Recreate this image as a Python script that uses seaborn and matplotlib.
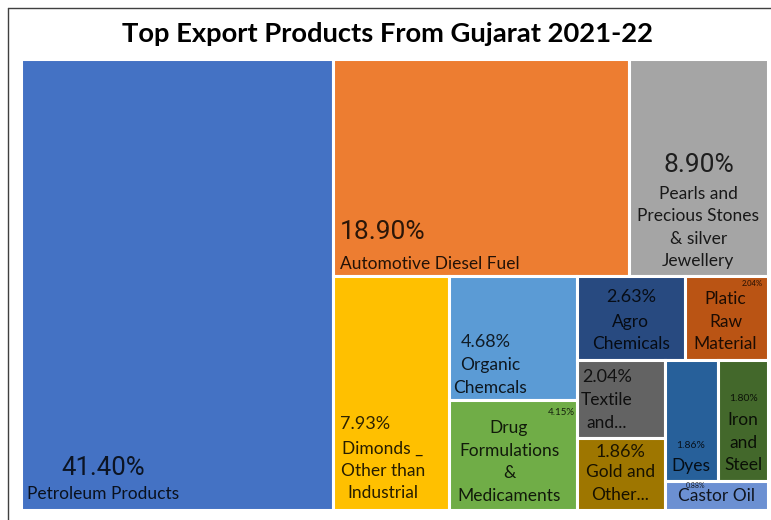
"""Treemap of Gujarat's top export products, 2021-22."""
import numpy as np
import pandas as pd
import matplotlib
matplotlib.use("Agg")
import matplotlib.pyplot as plt
from matplotlib.lines import Line2D
import seaborn as sns

# --- data -------------------------------------------------------------
products = [
    "Petroleum Products",
    "Automotive Diesel Fuel",
    "Pearls and\nPrecious Stones\n& silver\nJewellery",
    "Dimonds _\nOther than\nIndustrial",
    "Organic\nChemcals",
    "Drug\nFormulations\n&\nMedicaments",
    "Agro\nChemicals",
    "Platic\nRaw\nMaterial",
    "Textile\nand...",
    "Gold and\nOther...",
    "Dyes",
    "Iron\nand\nSteel",
    "Castor Oil",
]
shares = [41.40, 18.90, 8.90, 7.93, 4.68, 4.15, 2.63, 2.04, 2.04, 1.86, 1.86, 1.80, 0.88]
share_labels = ["41.40%", "18.90%", "8.90%", "7.93%", "4.68%", "4.15%", "2.63%",
                "2.04%", "2.04%", "1.86%", "1.86%", "1.80%", "0.88%"]
# how many cells go into each strip of the treemap (as in the original)
strip_sizes = [1, 2, 1, 2, 2, 2, 2, 1]

colors = ["#4472C4", "#ED7D31", "#A5A5A5", "#FFC000", "#5B9BD5", "#70AD47",
          "#284A80", "#BA5414", "#636363", "#9E7600", "#27609A", "#43682B",
          "#6C90D2"]

# label placement inside each cell: (x frac, y frac, ha, size) for % and name
pct_style = [
    (0.264, 0.907, "center", 18.5), (0.024, 0.794, "left", 19),
    (0.50, 0.486, "center", 19), (0.06, 0.631, "left", 13),
    (0.095, 0.53, "left", 13), (0.875, 0.11, "center", 7),
    (0.50, 0.25, "center", 13), (0.81, 0.09, "center", 5.5),
    (0.06, 0.22, "left", 13), (0.49, 0.19, "center", 13),
    (0.48, 0.71, "center", 7.5), (0.51, 0.32, "center", 7.5),
    (0.29, 0.16, "center", 5),
]
name_style = [
    (0.019, 0.965, "left"), (0.024, 0.944, "left"), (0.50, 0.776, "center"),
    (0.43, 0.833, "center"), (0.325, 0.81, "center"), (0.47, 0.565, "center"),
    (0.50, 0.68, "center"), (0.49, 0.543, "center"), (0.33, 0.66, "center"),
    (0.49, 0.63, "center"), (0.48, 0.876, "center"), (0.51, 0.686, "center"),
    (0.50, 0.52, "center"),
]


def strip_layout(values, sizes, w, h):
    """Lay the values out strip by strip along the shorter side."""
    rects = []
    x, y = 0.0, 0.0
    remaining = float(sum(values))
    start = 0
    for n in sizes:
        group = values[start:start + n]
        s = sum(group)
        if w >= h:  # vertical strip on the left
            cw = w * s / remaining
            yy = y
            for v in group:
                ch = h * v / s
                rects.append((x, yy, cw, ch))
                yy += ch
            x += cw
            w -= cw
        else:  # horizontal strip on top
            rh = h * s / remaining
            xx = x
            for v in group:
                cw = w * v / s
                rects.append((xx, y, cw, rh))
                xx += cw
            y += rh
            h -= rh
        remaining -= s
        start += n
    return rects


sns.set_theme(style="white")
plt.rcParams["font.family"] = ["Lato", "DejaVu Sans"]

W, H = 747.0, 451.0
cells = pd.DataFrame(strip_layout(shares, strip_sizes, W, H),
                     columns=["x", "y", "w", "h"])
cells["product"] = products
cells["share"] = shares

fig = plt.figure(figsize=(7.71, 5.20), dpi=100)
ax = fig.add_axes([21 / 771, 1 - 510 / 520, 747 / 771, 451 / 520])
palette = sns.color_palette(colors)

ax.bar(cells["x"], cells["h"], width=cells["w"], bottom=cells["y"],
       align="edge", color=palette, edgecolor="white", linewidth=2.2)

for i, row in cells.iterrows():
    fx, fy, ha, size = pct_style[i]
    ax.text(row.x + fx * row.w, row.y + fy * row.h, share_labels[i],
            ha=ha, va="center", fontsize=size, color="black", alpha=0.82,
            family=["Roboto", "DejaVu Sans"] if size > 14 else ["Lato", "DejaVu Sans"])
    nx, ny, nha = name_style[i]
    ax.text(row.x + nx * row.w, row.y + ny * row.h, row["product"],
            ha=nha, va="center", multialignment="center", fontsize=12.5,
            color="black", alpha=0.85, linespacing=1.5)

ax.set_xlim(0, W)
ax.set_ylim(H, 0)
ax.axis("off")

fig.text(387 / 771, 1 - 34 / 520, "Top Export Products From Gujarat 2021-22",
         ha="center", va="center", fontsize=19.7, fontweight="bold", color="black")

# chart frame
fig.add_artist(Line2D([8 / 771, 1], [1 - 8 / 520] * 2, color="#404040", lw=1))
fig.add_artist(Line2D([8 / 771] * 2, [0, 1 - 8 / 520], color="#404040", lw=1))

fig.savefig("out.png", dpi=100, facecolor="white")
